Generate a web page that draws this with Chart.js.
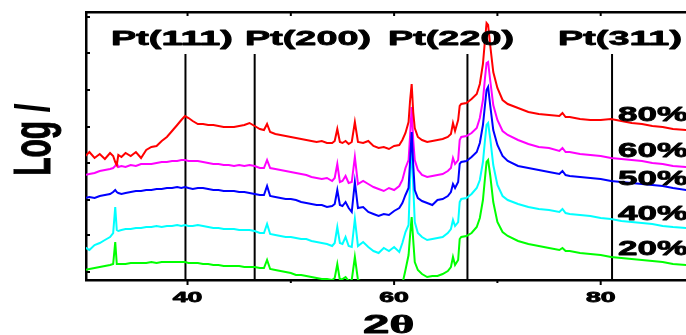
<!DOCTYPE html>
<html>
<head>
<meta charset="utf-8">
<script src="https://cdn.jsdelivr.net/npm/chart.js@4"></script>
<style>
  html, body { margin: 0; padding: 0; background: #fff; overflow: hidden; }
  #wrap { width: 686px; height: 335px; }
</style>
</head>
<body>
<div id="wrap"><canvas id="xrdChart" width="686" height="335"></canvas></div>
<script>
// 2-theta grid shared by every pattern (denser around the reflections)
const twoTheta = [
  30, 30.5, 31, 31.5, 32, 32.5, 32.8, 33.0, 33.15, 33.3,
  33.6, 34, 34.5, 35, 35.5, 36, 36.5, 37, 37.5, 38,
  38.5, 39, 39.4, 39.75, 40.1, 40.5, 41, 41.5, 42, 42.5,
  43, 43.5, 44, 44.5, 45, 45.5, 46, 46.5, 47, 47.4,
  47.7, 48.0, 48.5, 49, 49.5, 50, 50.5, 51, 51.5, 52,
  52.5, 53, 53.5, 54, 54.25, 54.5, 54.75, 55.0, 55.3, 55.6,
  55.9, 56.2, 56.5, 57, 57.5, 58, 58.5, 59, 59.5, 60,
  60.5, 60.8, 61.1, 61.4, 61.55, 61.7, 61.85, 62.0, 62.3, 62.7,
  63.2, 63.7, 64.2, 64.7, 65.2, 65.5, 65.7, 65.9, 66.2, 66.35,
  66.5, 67, 67.5, 68, 68.3, 68.6, 68.8, 68.95, 69.1, 69.3,
  69.6, 70, 70.5, 71, 72, 73, 74, 75, 76, 76.3,
  76.6, 77, 78, 79, 80, 81, 82, 83, 84, 85,
  86, 87, 88.3
];

// log intensity, stacked with offsets (arbitrary units)
const pt80 = [
  123, 128, 122, 126, 121, 127, 124, 118, 115, 125,
  123, 127, 124, 128, 122, 130, 133, 134, 139, 143,
  149, 155, 160, 164, 162, 159, 156, 156, 155, 155,
  154, 153, 153, 153, 154, 155, 157, 154, 151, 150,
  156, 148, 146, 145, 144, 143, 142, 141, 140, 139,
  138, 139, 137, 137, 139, 151, 138, 137, 139, 136,
  138, 158, 138, 137, 139, 134, 132, 133, 131, 134,
  135, 140, 147, 158, 180, 196, 168, 152, 143, 140,
  138, 139, 140, 141, 143, 146, 157, 149, 160, 174,
  176, 177, 181, 186, 196, 216, 240, 257, 255, 235,
  208, 192, 180, 176, 172, 168, 166, 165, 164, 167,
  163, 163, 161, 160, 160, 161, 159, 157, 156, 154,
  153, 151, 150
];
const pt60 = [
  105, 106, 107, 109, 110, 111, 112, 114, 117, 113,
  114, 113, 115, 114, 116, 116, 116, 117, 118, 118,
  119, 119, 120, 120, 119, 119, 119, 118, 117, 116,
  116, 115, 115, 114, 115, 114, 115, 114, 112, 112,
  120, 112, 111, 110, 109, 108, 107, 106, 105, 103,
  102, 101, 102, 99, 102, 116, 98, 99, 104, 97,
  98, 123, 96, 99, 96, 93, 91, 89, 92, 90,
  94, 100, 112, 120, 145, 173, 140, 120, 110, 105,
  103, 104, 105, 106, 109, 112, 122, 116, 120, 140,
  143, 144, 147, 152, 162, 180, 202, 217, 218, 200,
  175, 160, 149, 145, 140, 136, 133, 132, 129, 132,
  128, 128, 126, 125, 124, 122, 121, 120, 119, 117,
  116, 114, 113
];
const pt50 = [
  82, 83, 82, 84, 85, 86, 88, 90, 88, 87,
  86, 87, 88, 89, 89, 90, 90, 91, 91, 92,
  92, 93, 92, 93, 92, 91, 92, 92, 91, 90,
  90, 89, 89, 89, 88, 88, 87, 86, 85, 85,
  94, 84, 83, 82, 81, 81, 80, 78, 77, 76,
  75, 75, 73, 74, 76, 90, 75, 74, 78, 72,
  68, 98, 72, 73, 68, 66, 64, 66, 65, 69,
  72, 77, 85, 92, 120, 148, 115, 90, 82, 79,
  77, 75, 80, 81, 84, 88, 96, 92, 98, 116,
  118, 119, 123, 128, 137, 155, 175, 190, 193, 175,
  150, 135, 124, 119, 114, 112, 110, 108, 106, 109,
  105, 104, 103, 102, 101, 99, 98, 97, 96, 95,
  94, 92, 90
];
const pt40 = [
  33, 30, 35, 37, 40, 43, 47, 73, 50, 49,
  50, 51, 51, 52, 52, 53, 53, 54, 53, 54,
  54, 55, 54, 55, 54, 54, 55, 54, 53, 52,
  52, 51, 51, 51, 50, 50, 50, 49, 47, 47,
  56, 46, 45, 44, 43, 43, 42, 41, 41, 39,
  38, 37, 36, 34, 37, 53, 37, 36, 43, 34,
  33, 61, 34, 38, 33, 29, 27, 32, 29, 33,
  28, 37, 48, 55, 100, 140, 95, 58, 47, 43,
  40, 41, 42, 43, 47, 51, 60, 54, 58, 78,
  81, 82, 86, 92, 100, 118, 140, 155, 157, 142,
  115, 95, 84, 80, 76, 73, 71, 70, 68, 71,
  67, 66, 65, 64, 62, 61, 59, 58, 57, 56,
  54, 53, 52
];
const pt20 = [
  10, 11, 12, 13, 14, 15, 16, 38, 16, 16,
  16, 16, 17, 17, 17, 17, 18, 17, 18, 18,
  18, 18, 18, 18, 17, 17, 17, 16, 16, 15,
  15, 14, 14, 14, 14, 13, 13, 13, 12, 12,
  20, 11, 10, 9, 8, 7, 5, 5, 4, 3,
  2, 1, 1, 0, 2, 16, 0, 1, 3, -1,
  0, 23, 0, -2, -4, -5, -6, -6, -7, -8,
  -8, -4, 10, 25, 45, 63, 40, 18, 10, 6,
  3, 4, 4, 6, 9, 13, 23, 15, 20, 41,
  43, 44, 47, 53, 62, 80, 102, 118, 120, 105,
  78, 58, 48, 44, 39, 36, 34, 32, 30, 32,
  29, 29, 27, 26, 25, 23, 22, 21, 20, 19,
  18, 16, 15
];

const seriesNames = ['80%', '60%', '50%', '40%', '20%'];
const seriesValues = [pt80, pt60, pt50, pt40, pt20];
const seriesColors = ['#ff0000', '#ff00ff', '#0000ff', '#00ffff', '#00ff00'];
const seriesOrder = [2, 3, 1, 4, 5];

// Pt reference reflections
const ptPlanes = ['Pt(111)', 'Pt(200)', 'Pt(220)', 'Pt(311)'];
const ptAngles = [39.8, 46.5, 67.1, 81.1];
const ptLineTop = 226;

const xLabelTicks = [40, 60, 80];
const xMinorTicks = [50, 70];
const yTickValues = [8, 45, 80, 117, 153, 190, 227, 263];

const SANS = '"Liberation Sans", Arial, sans-serif';
const SERIF = '"Liberation Serif", "Times New Roman", serif';

// horizontally widened, heavy text
function wideText(ctx, str, x, y, sx, font, align) {
  ctx.save();
  ctx.translate(x, y);
  ctx.scale(sx, 1);
  ctx.font = font;
  ctx.textAlign = align || 'center';
  ctx.textBaseline = 'alphabetic';
  ctx.fillStyle = '#000';
  ctx.strokeStyle = '#000';
  ctx.lineWidth = 0.8;
  ctx.lineJoin = 'round';
  ctx.fillText(str, 0, 0);
  ctx.strokeText(str, 0, 0);
  ctx.restore();
}

const decorPlugin = {
  id: 'decor',
  afterDraw(chart) {
    const { ctx, chartArea: a, scales } = chart;
    const x = scales.x, y = scales.y;
    ctx.save();
    ctx.strokeStyle = '#000';
    ctx.lineWidth = 2;
    const seg = (x1, y1, x2, y2) => {
      ctx.beginPath(); ctx.moveTo(x1, y1); ctx.lineTo(x2, y2); ctx.stroke();
    };
    xLabelTicks.concat(xMinorTicks).forEach(t => {
      const px = x.getPixelForValue(t);
      seg(px, a.bottom, px, a.bottom + (xLabelTicks.includes(t) ? 5 : 3));
      seg(px, a.top, px, a.top + 4);
    });
    yTickValues.forEach(v => {
      const py = y.getPixelForValue(v);
      seg(a.left, py, a.left + 4, py);
    });
    ctx.restore();

    // tick labels
    xLabelTicks.forEach(t => {
      wideText(ctx, String(t), x.getPixelForValue(t), 302, 1.9, 'bold 14px ' + SANS);
    });

    // axis titles
    ctx.save();
    ctx.font = 'bold 25px ' + SANS;
    const w2 = ctx.measureText('2').width;
    ctx.restore();
    const tx = 388 - 50 / 2;
    wideText(ctx, '2', tx, 333, 1.9, 'bold 25px ' + SANS, 'left');
    wideText(ctx, '\u03b8', tx + w2 * 1.9, 333, 1.9, 'bold 25px ' + SERIF, 'left');

    ctx.save();
    ctx.translate(50, 140);
    ctx.scale(1.7, 1);
    ctx.rotate(-Math.PI / 2);
    ctx.fillStyle = '#000';
    ctx.strokeStyle = '#000';
    ctx.lineWidth = 0.6;
    ctx.textBaseline = 'alphabetic';
    ctx.textAlign = 'left';
    ctx.font = 'bold 30px ' + SANS;
    const wLog = ctx.measureText('Log ').width;
    ctx.font = 'italic bold 30px ' + SANS;
    const wI = ctx.measureText('I').width;
    const start = -(wLog + wI) / 2;
    ctx.font = 'bold 30px ' + SANS;
    ctx.fillText('Log ', start, 0);
    ctx.strokeText('Log ', start, 0);
    ctx.font = 'italic bold 30px ' + SANS;
    ctx.fillText('I', start + wLog, 0);
    ctx.restore();

    // reflection labels
    const planeX = [172, 308, 451, 620];
    ptPlanes.forEach((p, i) => {
      wideText(ctx, p, planeX[i], 45, 1.8, 'bold 21px ' + SANS);
    });

    // composition labels
    const nameY = [121, 157, 185, 220, 255];
    seriesNames.forEach((n, i) => {
      wideText(ctx, n, 618, nameY[i], 1.75, 'bold 20px ' + SANS, 'left');
    });
  }
};

const patternSets = seriesValues.map((vals, i) => ({
  label: seriesNames[i],
  data: twoTheta.map((t, j) => ({ x: t, y: vals[j] })),
  borderColor: seriesColors[i],
  borderWidth: 2,
  pointRadius: 0,
  tension: 0,
  order: seriesOrder[i]
}));

const refSets = ptAngles.map((t, i) => ({
  label: ptPlanes[i],
  data: [{ x: t, y: 0 }, { x: t, y: ptLineTop }],
  borderColor: '#000',
  borderWidth: 2,
  pointRadius: 0,
  order: 10
}));

const axisBorder = { display: true, color: '#000', width: 2.5 };

new Chart(document.getElementById('xrdChart'), {
  type: 'line',
  data: { datasets: refSets.concat(patternSets) },
  options: {
    responsive: false,
    devicePixelRatio: 1,
    animation: false,
    layout: { padding: 0 },
    plugins: { legend: { display: false }, tooltip: { enabled: false } },
    scales: {
      x: {
        type: 'linear', position: 'bottom', min: 30.17, max: 88.26,
        ticks: { display: false }, grid: { display: false }, border: axisBorder,
        afterFit: s => { s.height = 55; }
      },
      xTop: {
        type: 'linear', position: 'top', min: 30.17, max: 88.26,
        ticks: { display: false }, grid: { display: false }, border: axisBorder,
        afterFit: s => { s.height = 12; }
      },
      y: {
        type: 'linear', position: 'left', min: 0, max: 268,
        ticks: { display: false }, grid: { display: false }, border: axisBorder,
        afterFit: s => { s.width = 86; }
      }
    }
  },
  plugins: [decorPlugin]
});
</script>
</body>
</html>
